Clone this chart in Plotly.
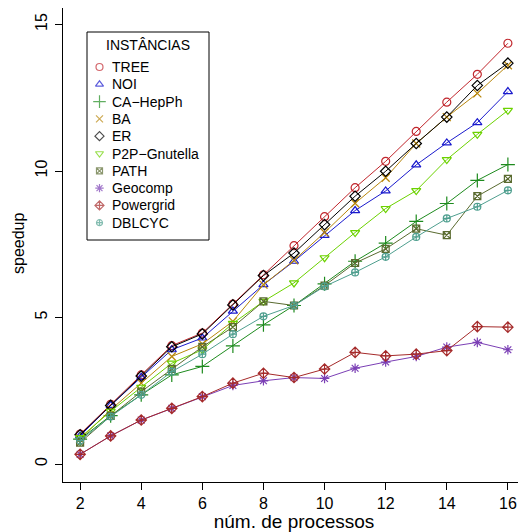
import plotly.graph_objects as go

procs = [2, 3, 4, 5, 6, 7, 8, 9, 10, 11, 12, 13, 14, 15, 16]

names = ["TREE", "NOI", "CA−HepPh", "BA", "ER", "P2P−Gnutella", "PATH",
         "Geocomp", "Powergrid", "DBLCYC"]

tree = [1.02, 2.04, 3.04, 4.04, 4.47, 5.46, 6.46, 7.45, 8.44, 9.43, 10.33, 11.35, 12.35, 13.30, 14.36]
noi = [0.96, 2.00, 2.96, 3.90, 4.30, 5.22, 6.12, 6.92, 7.80, 8.65, 9.32, 10.21, 10.96, 11.65, 12.71]
ca_hepph = [0.85, 1.65, 2.36, 3.04, 3.33, 4.03, 4.75, 5.41, 6.15, 6.92, 7.54, 8.28, 8.89, 9.68, 10.22]
ba = [0.85, 1.85, 2.76, 3.67, 4.10, 4.87, 6.12, 6.95, 7.90, 8.90, 9.77, 10.94, 11.84, 12.65, 13.61]
er = [1.00, 2.00, 3.00, 4.00, 4.44, 5.43, 6.43, 7.20, 8.17, 9.14, 9.99, 10.94, 11.84, 12.92, 13.68]
p2p = [0.90, 1.80, 2.62, 3.44, 3.90, 4.80, 5.55, 6.18, 7.04, 7.90, 8.72, 9.33, 10.39, 11.25, 12.07]
path = [0.73, 1.64, 2.47, 3.25, 4.00, 4.67, 5.55, 5.41, 6.09, 6.86, 7.34, 8.03, 7.81, 9.14, 9.73]
geocomp = [0.33, 0.96, 1.50, 1.90, 2.30, 2.68, 2.84, 2.95, 2.92, 3.27, 3.48, 3.67, 3.99, 4.15, 3.90]
powergrid = [0.33, 0.96, 1.50, 1.90, 2.30, 2.76, 3.10, 2.95, 3.24, 3.81, 3.69, 3.75, 3.87, 4.69, 4.67]
dblcyc = [0.80, 1.62, 2.36, 3.15, 3.75, 4.43, 5.04, 5.41, 6.06, 6.54, 7.07, 7.75, 8.38, 8.78, 9.34]

x_ticks = [2, 4, 6, 8, 10, 12, 14, 16]
y_ticks = [0, 5, 10, 15]
legend_title = "INSTÂNCIAS"
x_title = "núm. de processos"
y_title = "speedup"

series = [tree, noi, ca_hepph, ba, er, p2p, path, geocomp, powergrid, dblcyc]
colors = ["#C1272D", "#1A1ACD", "#1E8B1E", "#B8860B", "#000000", "#6CD200",
          "#5A6B30", "#7B3FB5", "#A52A2A", "#4F9F8F"]
symbols = ["circle-open", "triangle-up-open", "cross-thin-open", "x-thin-open",
           "diamond-open", "triangle-down-open", "square-x-open", "asterisk-open",
           "diamond-cross-open", "circle-cross-open"]
sizes = [8, 8, 10, 8, 8, 8, 7, 8, 8, 7]

# figure geometry (page body has an 8px margin)
W, H = 518, 524
ML, MR, MT, MB = 55, 1, 0, 50
PW, PH = W - ML - MR, H - MT - MB


def px(xs):  # page px -> paper x
    return (xs - 8 - ML) / PW


def py(ys):  # page px -> paper y
    return 1 - (ys - 8 - MT) / PH


fig = go.Figure()
for name, ys, c, s, sz in zip(names, series, colors, symbols, sizes):
    fig.add_trace(go.Scatter(
        x=procs, y=ys, mode="lines+markers", name=name, showlegend=False,
        line=dict(color=c, width=1),
        marker=dict(symbol=s, size=sz, color=c, line=dict(color=c, width=1.2)),
    ))

font = "Liberation Sans, Arial, Helvetica, sans-serif"

# hand-drawn legend (R style)
row0, step = 67.0, 17.3
rows = [py(row0 + i * step) for i in range(len(names))]
fig.add_trace(go.Scatter(
    x=[px(99.5)] * len(names), y=rows, mode="markers", xaxis="x2", yaxis="y2",
    showlegend=False, hoverinfo="skip", cliponaxis=False,
    marker=dict(symbol=symbols, size=[s - 1 for s in sizes], color=colors,
                line=dict(color=colors, width=1.2)),
))
annotations = [dict(text=legend_title, x=px(148), y=py(45), xref="paper", yref="paper",
                    showarrow=False, xanchor="center", yanchor="middle",
                    font=dict(size=14, family=font, color="black"))]
for name, ry in zip(names, rows):
    annotations.append(dict(text=name, x=px(110), y=ry, xref="paper", yref="paper",
                            showarrow=False, xanchor="left", yanchor="middle",
                            font=dict(size=14, family=font, color="black")))
annotations.append(dict(text=y_title, x=px(18), y=py(244), xref="paper", yref="paper",
                        showarrow=False, xanchor="center", yanchor="middle",
                        textangle=-90, font=dict(size=16, family=font, color="black")))
shapes = [dict(type="rect", xref="paper", yref="paper", x0=px(87), x1=px(209),
               y0=py(240), y1=py(32), line=dict(color="black", width=1),
               fillcolor="white", layer="below")]

fig.update_layout(
    width=W, height=H,
    margin=dict(l=ML, r=MR, t=MT, b=MB),
    plot_bgcolor="white", paper_bgcolor="white",
    font=dict(family=font, size=16, color="black"),
    showlegend=False,
    annotations=annotations,
    shapes=shapes,
    xaxis=dict(
        range=[1.44, 16.56], tickvals=x_ticks, automargin=False,
        showgrid=False, zeroline=False, showline=True, linecolor="black",
        linewidth=1, mirror=True, ticks="outside", ticklen=7, tickcolor="black",
        title=dict(text=x_title, standoff=5),
    ),
    yaxis=dict(
        range=[-0.614, 15.563], tickvals=y_ticks, automargin=False,
        showgrid=False, zeroline=False, showline=True, linecolor="black",
        linewidth=1, mirror=True, ticks="outside", ticklen=7, tickcolor="black",
        tickangle=-90, ticklabelstandoff=2,
    ),
    xaxis2=dict(range=[0, 1], domain=[0, 1], overlaying="x", visible=False,
                fixedrange=True),
    yaxis2=dict(range=[0, 1], domain=[0, 1], overlaying="y", visible=False,
                fixedrange=True),
)

fig.write_html("out.html")
